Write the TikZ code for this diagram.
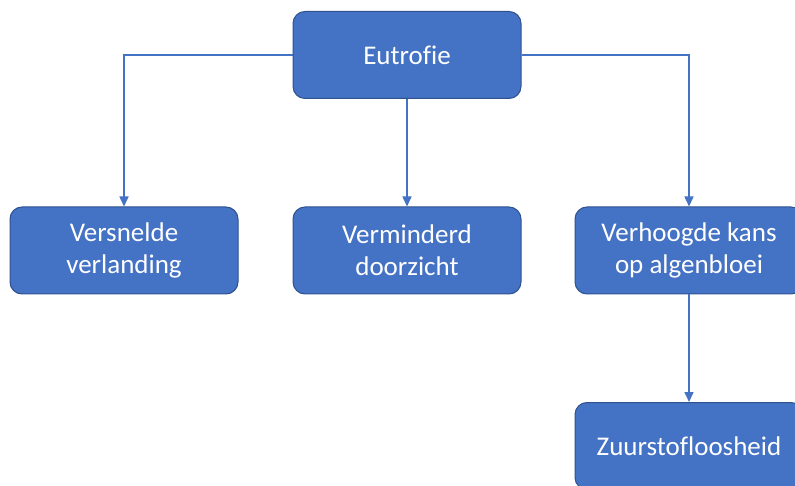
\documentclass[tikz,border=0pt]{standalone}
\usepackage{fontspec}
\setmainfont{Carlito}[Ligatures=NoCommon]
\usetikzlibrary{arrows.meta}
\definecolor{boxfill}{HTML}{4472C4}
\definecolor{boxline}{HTML}{2F528F}
\definecolor{conn}{HTML}{4472C4}
\begin{document}
\begin{tikzpicture}[x=1pt,y=-1pt,
  box/.style={draw=boxline, line width=1pt, fill=boxfill, rounded corners=12pt,
    minimum width=228pt, minimum height=87pt, text=white, align=center,
    font=\fontsize{27}{32}\selectfont, inner sep=0pt},
  conn/.style={draw=conn, line width=1.6pt, -{Triangle[length=10pt,width=9pt]}}]
\useasboundingbox (0,0) rectangle (795,486);
\clip (0,0) rectangle (795,486);
\node[box] (eu) at (407,55) {Eutrofie};
\node[box] (vv) at (124,250.5) {Versnelde\\verlanding};
\node[box] (vd) at (407,250.5) {Verminderd\\doorzicht};
\node[box] (vk) at (689,250.5) {Verhoogde kans\\op algenbloei};
\node[box] (zu) at (689,446) {Zuurstofloosheid};
\draw[conn] (eu.west) -| (vv.north);
\draw[conn] (eu.south) -- (vd.north);
\draw[conn] (eu.east) -| (vk.north);
\draw[conn] (vk.south) -- (zu.north);
\end{tikzpicture}
\end{document}
